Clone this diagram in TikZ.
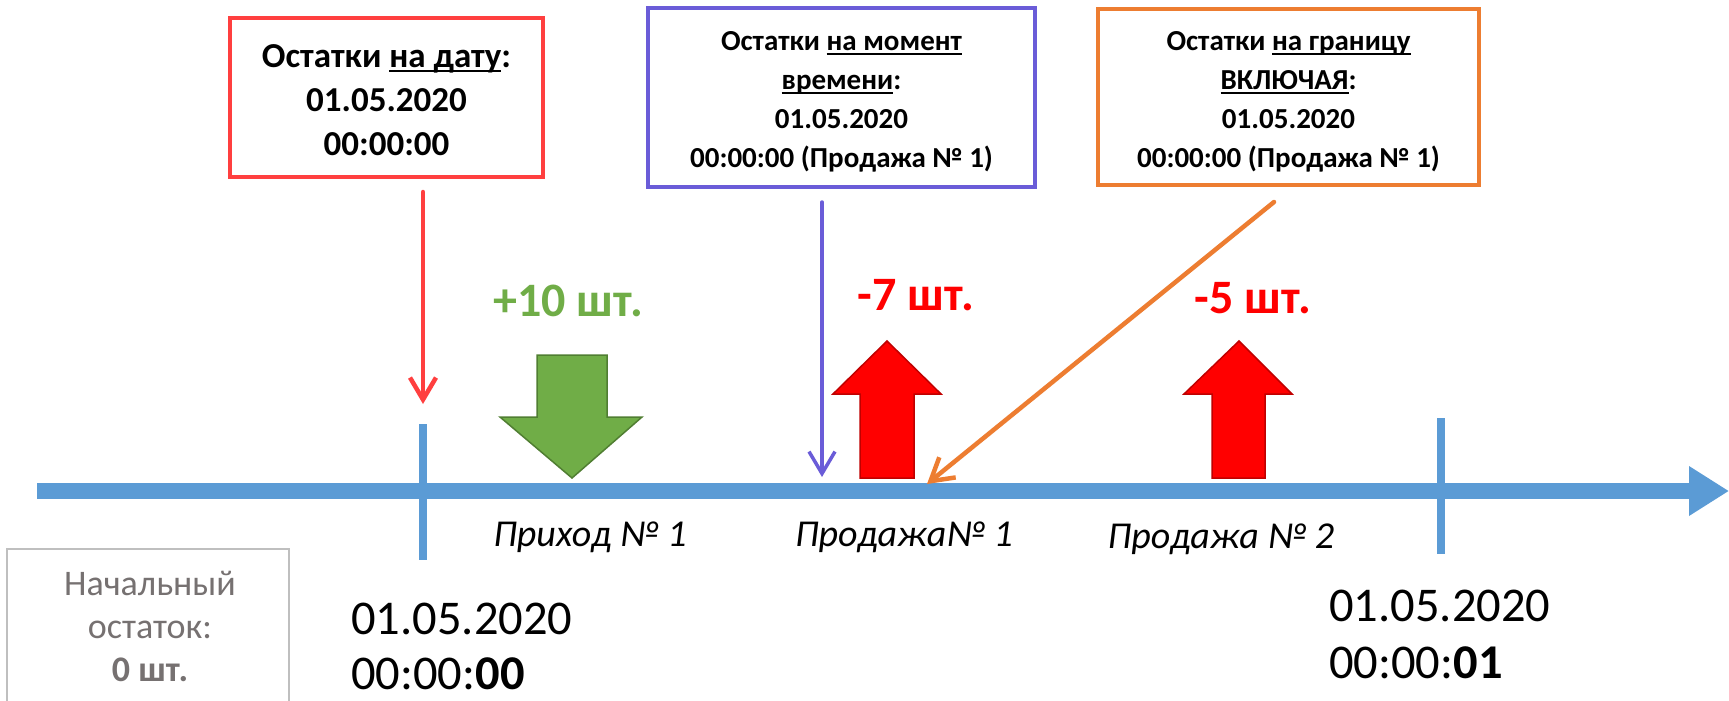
\documentclass[tikz,border=0pt]{standalone}
\usepackage{fontspec}
\setmainfont{Carlito}
\usetikzlibrary{arrows.meta}
\definecolor{cRed}{HTML}{FF3F3F}
\definecolor{cBlue}{HTML}{6A5CD8}
\definecolor{cOrange}{HTML}{ED7D31}
\definecolor{cGreen}{HTML}{70AD47}
\definecolor{cGreenD}{HTML}{507E32}
\definecolor{cRedF}{HTML}{FF0000}
\definecolor{cRedD}{HTML}{C00000}
\definecolor{cAxis}{HTML}{5B9BD5}
\definecolor{cGrayT}{HTML}{767171}
\definecolor{cGrayB}{HTML}{BFBFBF}
\newcommand\undl[1]{\setbox0\hbox{#1}\rlap{\rule[-4.5pt]{\wd0}{2pt}}\box0}
\begin{document}
\begin{tikzpicture}[x=1pt,y=-1pt,
  infobox/.style={draw, line width=4pt, fill=white, align=center, inner sep=0pt},
  bigfont/.style={font=\bfseries\fontsize{35}{44}\selectfont},
  midfont/.style={font=\bfseries\fontsize{29}{39}\selectfont},
  pointer/.style={-{Straight Barb[length=22pt,width=26pt]}, line cap=round},
  axisline/.style={draw=cAxis, line width=16pt},
  tickline/.style={draw=cAxis, line width=8pt},
  qty/.style={font=\bfseries\fontsize{48}{54}\selectfont, anchor=base},
  evlabel/.style={font=\itshape\fontsize{38}{44}\selectfont, anchor=base},
  datelabel/.style={align=left, anchor=west, inner sep=0pt},
  greenblk/.style={fill=cGreen, draw=cGreenD, line width=1.5pt},
  redblk/.style={fill=cRedF, draw=cRedD, line width=1.5pt}
]
\useasboundingbox (0,0) rectangle (1729,701);
\fill[white] (0,0) rectangle (1729,701);

% boxes
\node[infobox, draw=cRed, minimum width=313pt, minimum height=159pt] (rbox) at (386.5,97.5) {};
\node[bigfont, align=center] (rtext) at (386.5,100.5)
  {Остатки \undl{на дату}:\\01.05.2020\\00:00:00};
\node[infobox, draw=cBlue, minimum width=387pt, minimum height=179pt] (bbox) at (841.5,97.5) {};
\node[midfont, align=center] (btext) at (841.5,102)
  {Остатки \undl{на момент}\\\undl{времени}:\\01.05.2020\\00:00:00 (Продажа № 1)};
\node[infobox, draw=cOrange, minimum width=381pt, minimum height=176pt] (obox) at (1288.5,97) {};
\node[midfont, align=center] (otext) at (1288.5,102)
  {Остатки \undl{на границу}\\\undl{ВКЛЮЧАЯ}:\\01.05.2020\\00:00:00 (Продажа № 1)};

% timeline
\coordinate (axS) at (37,491);
\coordinate (axE) at (1729,491);
\draw[axisline, -{Triangle[length=40pt,width=47pt]}] (axS) -- (axE);
\coordinate (t1a) at (423,424);
\coordinate (t1b) at (423,560);
\coordinate (t2a) at (1441,418);
\coordinate (t2b) at (1441,554);
\draw[tickline] (t1a) -- (t1b);
\draw[tickline] (t2a) -- (t2b);

% block arrows
\draw[greenblk] (537,355) -- (607,355) -- (607,417) -- (642,417) -- (572,478) -- (500,417) -- (537,417) -- cycle;
\draw[redblk] (860,478) -- (860,394) -- (833,394) -- (887,341) -- (941,394) -- (914,394) -- (914,478) -- cycle;
\draw[redblk] (1212,478) -- (1212,394) -- (1184,394) -- (1239,341) -- (1292,394) -- (1265,394) -- (1265,478) -- cycle;

% pointers
\coordinate (ra) at (423,192);
\coordinate (rb) at (423,404);
\coordinate (ba) at (822,202);
\coordinate (bb) at (822,477);
\coordinate (oa) at (1274,202);
\coordinate (ob) at (927,484);
\draw[pointer, draw=cRed, line width=4.5pt] (ra) -- (rb);
\draw[pointer, draw=cBlue, line width=3.5pt] (ba) -- (bb);
\draw[pointer, draw=cOrange, line width=4.5pt] (oa) -- (ob);

% quantities
\node[qty, text=cGreen] (q1) at (568,316) {+10 шт.};
\node[qty, text=cRedF] (q2) at (916,310) {-7 шт.};
\node[qty, text=cRedF] (q3) at (1253,313) {-5 шт.};

% event labels
\node[evlabel] (e1) at (590,546) {Приход № 1};
\node[evlabel] (e2) at (904,546) {Продажа№ 1};
\node[evlabel] (e3) at (1221,548) {Продажа № 2};

% initial balance box
\draw[draw=cGrayB, line width=1.5pt] (7,549) rectangle (289,720);
\node[align=center, text=cGrayT, font=\fontsize{36}{43}\selectfont] (init) at (150,626)
  {Начальный\\остаток:\\\textbf{0 шт.}};

% dates
\node[datelabel, font=\fontsize{48.5}{55}\selectfont] (d1) at (351,646) {01.05.2020\\00:00:\textbf{00}};
\node[datelabel, font=\fontsize{48.5}{57}\selectfont] (d2) at (1329,634) {01.05.2020\\00:00:\textbf{01}};
\end{tikzpicture}
\end{document}
